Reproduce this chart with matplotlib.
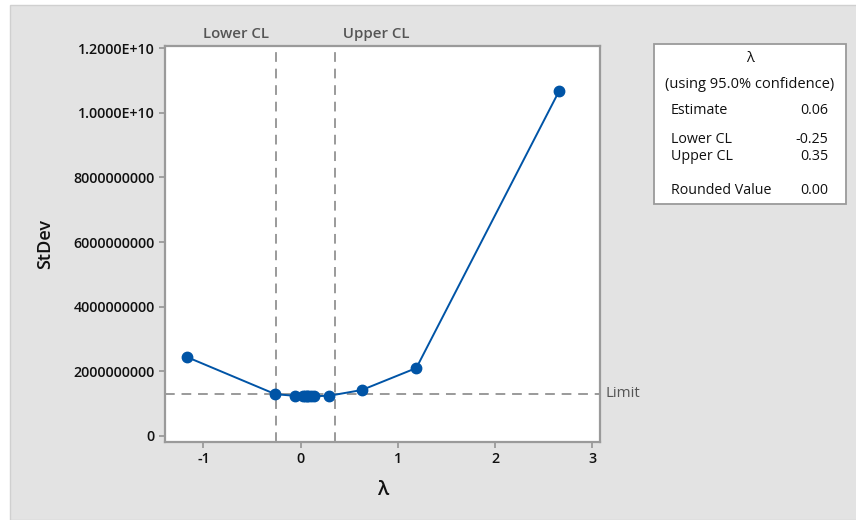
import matplotlib.pyplot as plt
from matplotlib.patches import Rectangle

plt.rcParams['font.family'] = ['Open Sans', 'DejaVu Sans']

# Box-Cox search: lambda vs. standard deviation of transformed data
lam = [-1.17, -0.26, -0.06, 0.02, 0.04, 0.06, 0.08, 0.11, 0.14, 0.29, 0.63, 1.19, 2.66]
stdev = [2.44e9, 1.29e9, 1.24e9, 1.22e9, 1.22e9, 1.22e9, 1.22e9, 1.22e9, 1.23e9,
         1.24e9, 1.42e9, 2.10e9, 10.68e9]

lower_cl = -0.25
upper_cl = 0.35
limit = 1.30e9

xticks = [-1, 0, 1, 2, 3]
yticks = [0, 2e9, 4e9, 6e9, 8e9, 1e10, 1.2e10]
ytick_labels = ['0', '2000000000', '4000000000', '6000000000', '8000000000',
                '1.0000E+10', '1.2000E+10']

table_rows = [('Estimate', '0.06'), ('Lower CL', '-0.25'),
              ('Upper CL', '0.35'), ('Rounded Value', '0.00')]

bg = '#e3e3e3'
grey = '#9a9a9a'
blue = '#0054a6'
ink = '#111111'

fig = plt.figure(figsize=(8.56, 5.2), dpi=100)
fig.patch.set_facecolor('white')
fig.add_artist(Rectangle((10 / 856, 0), 1, 1 - 5 / 520, transform=fig.transFigure,
                         facecolor=bg, edgecolor='#d0d0d0', lw=1, zorder=-1))

ax = fig.add_axes([165 / 856, 78 / 520, 435 / 856, 396 / 520])
ax.set_facecolor('white')
ax.plot(lam, stdev, color=blue, lw=1.4, marker='o', ms=7.5, zorder=3)

for x in (lower_cl, upper_cl):
    ax.axvline(x, color=grey, lw=1.4, ls=(0, (5, 3.5)), zorder=2)
ax.axhline(limit, color=grey, lw=1.4, ls=(0, (5, 3.5)), zorder=2)

ax.set_xlim(-1.396, 3.08)
ax.set_ylim(-0.19e9, 12.07e9)
ax.set_xticks(xticks)
ax.set_xticklabels([str(t) for t in xticks])
ax.set_yticks(yticks)
ax.set_yticklabels(ytick_labels)
ax.tick_params(colors=grey, labelcolor=ink, labelsize=10.3, length=4, width=1.3)
for lbl in ax.get_xticklabels() + ax.get_yticklabels():
    lbl.set_fontweight('semibold')

for s in ax.spines.values():
    s.set_color(grey)
    s.set_linewidth(1.6)

ax.set_xlabel('λ', fontsize=14, color=ink, labelpad=9.5, fontweight='semibold')
ax.set_ylabel('StDev', fontsize=13, color=ink, labelpad=14, fontweight='semibold')

# labels for the confidence limits and the limit line
ax.text(lower_cl, 1.012, 'Lower CL  ', transform=ax.get_xaxis_transform(),
        ha='right', va='bottom', fontsize=10.8, color='#555555', fontweight='semibold')
ax.text(upper_cl, 1.012, '  Upper CL', transform=ax.get_xaxis_transform(),
        ha='left', va='bottom', fontsize=10.8, color='#555555', fontweight='semibold')
ax.text(1.012, limit, 'Limit', transform=ax.get_yaxis_transform(),
        ha='left', va='center', fontsize=10.8, color='#555555')

# summary table on the right
fig.add_artist(Rectangle((654 / 856, 1 - 204 / 520), 192 / 856, 160 / 520,
                         transform=fig.transFigure, facecolor='white',
                         edgecolor=grey, lw=1.3))
fig.text(750 / 856, 1 - 58 / 520, 'λ', ha='center', va='center', fontsize=10.5,
         color=ink)
fig.text(750 / 856, 1 - 84 / 520, '(using 95.0% confidence)', ha='center',
         va='center', fontsize=10.5, color=ink)
row_y = [110, 140, 157, 190]
for (name, val), y in zip(table_rows, row_y):
    fig.text(671 / 856, 1 - y / 520, name, ha='left', va='center', fontsize=10.3,
             color=ink)
    fig.text(828 / 856, 1 - y / 520, val, ha='right', va='center', fontsize=10.3,
             color=ink)

fig.savefig('out.png', dpi=100, facecolor=fig.get_facecolor())
